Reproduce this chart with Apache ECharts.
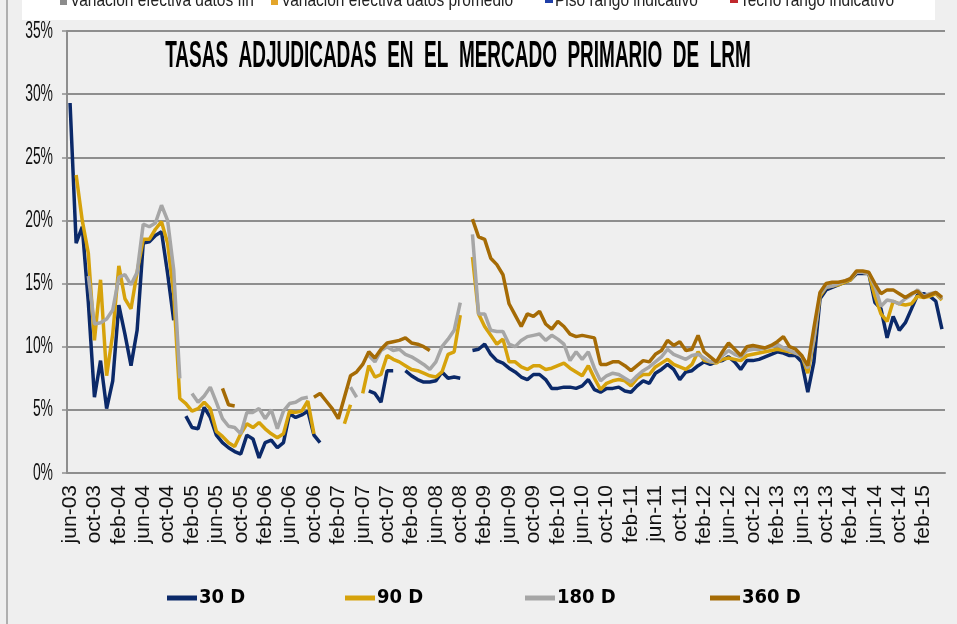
<!DOCTYPE html>
<html>
<head>
<meta charset="utf-8">
<script src="https://cdn.jsdelivr.net/npm/echarts@6/dist/echarts.min.js"></script>
<style>
  html, body { margin: 0; padding: 0; background: #efefef; }
  #chart { width: 957px; height: 624px; }
</style>
</head>
<body>
<div id="chart"></div>
<script>
// meses jun-03 .. may-15
const meses = ['ene', 'feb', 'mar', 'abr', 'may', 'jun', 'jul', 'ago', 'sep', 'oct', 'nov', 'dic'];
const categorias = [];
for (let k = 0; k < 144; k++) {
  const m = (5 + k) % 12;
  const a = 3 + Math.floor((5 + k) / 12);
  categorias.push(meses[m] + '-' + String(a).padStart(2, '0'));
}

const nombres = ['30 D', '90 D', '180 D', '360 D'];
const colores = ['#0b2969', '#d6a20b', '#a6a6a6', '#a56b05'];

const d30 = [
  29.3, 18.2, 19.5, 13.5, 6.0, 8.9, 5.1, 7.3, 13.3, 11.0,
  8.5, 11.3, 18.2, 18.3, 18.8, 19.1, 15.8, 12.1, null, 4.5,
  3.6, 3.5, 5.2, 4.4, 3.0, 2.4, 2.0, 1.7, 1.5, 3.0,
  2.7, 1.2, 2.4, 2.6, 2.0, 2.4, 4.7, 4.4, 4.6, 4.9,
  3.0, 2.4, null, null, null, null, null, null, null, 6.5,
  6.3, 5.6, 8.1, 8.1, null, 8.1, 7.7, 7.4, 7.2, 7.2,
  7.3, 8.0, 7.5, 7.6, 7.5, null, 9.7, 9.8, 10.2, 9.4,
  8.9, 8.7, 8.3, 8.0, 7.6, 7.4, 7.8, 7.8, 7.4, 6.7,
  6.7, 6.8, 6.8, 6.7, 6.9, 7.4, 6.6, 6.4, 6.7, 6.7,
  6.8, 6.5, 6.4, 6.9, 7.3, 7.1, 7.9, 8.2, 8.6, 8.2,
  7.4, 8.0, 8.1, 8.5, 8.8, 8.6, 8.8, 8.9, 9.2, 8.8,
  8.2, 8.9, 8.9, 9.0, 9.2, 9.4, 9.6, 9.5, 9.3, 9.3,
  8.8, 6.4, 8.8, 13.8, 14.5, 14.7, 14.9, 15.1, 15.3, 15.8,
  15.8, 15.8, 13.5, 13.0, 10.7, 12.4, 11.3, 11.9, 13.0, 14.1,
  14.2, 14.0, 13.6, 11.4
];

const d90 = [
  null, 23.6, 20.0, 17.4, 10.5, 15.3, 7.7, 11.0, 16.4, 13.8,
  13.0, 15.9, 18.5, 18.5, 19.3, 19.9, 18.2, 14.2, 5.9, 5.5,
  4.9, 5.1, 5.6, 5.1, 3.3, 2.9, 2.4, 2.1, 3.1, 3.9,
  3.6, 4.0, 3.5, 3.1, 2.8, 3.1, 4.9, 4.8, 4.9, 5.7,
  3.1, null, null, null, null, 3.9, 5.4, null, 6.3, 8.5,
  7.6, 7.8, 9.3, 9.0, 8.8, 8.5, 8.2, 8.1, 7.9, 7.7,
  7.6, 8.0, 9.4, 9.6, 12.5, null, 17.1, 12.6, 11.6, 10.9,
  10.2, 10.6, 8.8, 8.8, 8.4, 8.2, 8.5, 8.5, 8.2, 8.3,
  8.5, 8.7, 8.3, 8.0, 7.7, 8.5, 7.5, 6.6, 7.1, 7.3,
  7.4, 7.3, 6.9, 7.5, 7.8, 7.8, 8.4, 8.7, 9.0, 8.6,
  8.4, 8.2, 8.6, 9.6, 8.9, 8.8, 8.7, 9.0, 9.1, 9.0,
  8.9, 9.3, 9.4, 9.5, 9.6, 9.7, 9.8, 9.7, 9.6, 9.5,
  9.3, 7.9, 10.5, 14.0, 14.7, 14.8, 14.9, 15.1, 15.3, 15.9,
  15.9, 15.8, 14.0, 12.6, 12.0, 13.6, 13.4, 13.3, 13.4, 14.0,
  13.9, 14.0, 14.2, 13.7
];

const d180 = [
  null, null, null, 15.6, 11.8, 11.9, 12.2, 12.9, 15.5, 15.7,
  14.9, 15.9, 19.7, 19.5, 19.8, 21.2, 20.0, 16.1, 7.5, null,
  6.3, 5.6, 6.1, 6.8, 5.6, 4.3, 3.7, 3.6, 3.1, 4.8,
  4.8, 5.1, 4.3, 5.0, 3.5, 4.9, 5.5, 5.6, 5.9, 6.0,
  null, null, null, null, null, null, 6.8, 6.0, null, 9.3,
  8.8, 9.7, 10.0, 9.7, 9.8, 9.4, 9.2, 8.9, 8.6, 8.2,
  8.8, 10.0, 10.6, 11.3, 13.5, null, 18.9, 12.6, 12.6, 11.3,
  11.2, 11.2, 10.2, 10.0, 10.5, 10.8, 10.9, 11.0, 10.5, 10.9,
  10.6, 10.2, 8.9, 9.6, 9.0, 9.6, 8.3, 7.3, 7.7, 7.9,
  7.8, 7.5, 7.2, 7.7, 8.1, 8.4, 8.8, 9.2, 9.8, 9.4,
  9.2, 9.0, 9.3, 9.4, 9.1, 8.8, 8.8, 9.3, 9.7, 9.4,
  9.2, 9.7, 9.8, 9.8, 9.9, 10.0, 10.2, 9.9, 9.7, 9.5,
  9.3, 8.3, 10.6, 14.2, 14.7, 14.8, 15.0, 15.2, 15.4, 15.9,
  15.9, 15.8, 14.8, 13.2, 13.7, 13.6, 13.4, 13.8, 14.1, 14.5,
  14.0, 14.2, 14.3, 13.8
];

const d360 = [
  null, null, null, null, null, null, null, null, null, null,
  null, null, null, null, null, null, null, null, null, null,
  null, null, null, null, null, 6.7, 5.4, 5.3, null, null,
  null, null, null, null, null, null, null, null, null, null,
  6.0, 6.3, 5.7, 5.1, 4.3, 6.0, 7.7, 8.0, 8.6, 9.6,
  9.1, 9.8, 10.3, 10.4, 10.5, 10.7, 10.3, 10.2, 10.0, 9.7,
  null, null, null, null, null, null, 20.1, 18.7, 18.5, 17.0,
  16.5, 15.7, 13.4, 12.5, 11.6, 12.6, 12.4, 12.8, 11.8, 11.4,
  12.0, 11.6, 11.0, 10.8, 10.9, 10.8, 10.7, 8.6, 8.6, 8.8,
  8.8, 8.5, 8.1, 8.5, 8.9, 8.8, 9.4, 9.7, 10.5, 10.1,
  10.4, 9.7, 9.8, 10.9, 9.6, 9.2, 8.8, 9.6, 10.3, 9.8,
  9.3, 10.0, 10.1, 10.0, 9.9, 10.1, 10.4, 10.8, 10.0, 9.8,
  9.3, 8.5, 11.5, 14.3, 15.0, 15.1, 15.1, 15.2, 15.4, 16.0,
  16.0, 15.9, 15.0, 14.2, 14.5, 14.5, 14.2, 13.9, 14.2, 14.4,
  13.9, 14.1, 14.3, 13.9
];

const ticksY = [0, 5, 10, 15, 20, 25, 30, 35];

// leyenda recortada del grafico de arriba
const leyendaArriba = ['Variación efectiva datos fin', 'Variación efectiva datos promedio', 'Piso rango indicativo', 'Techo rango indicativo'];
const coloresArriba = ['#8c8c8c', '#e3a52a', '#1f3fa8', '#c0282d'];

const narrow = '"Liberation Sans Narrow", "Arial Narrow", "DejaVu Sans Condensed", sans-serif';
const gris = '#8e8e8e';

const datos = [d30, d90, d180, d360];
const series = datos.map((d, k) => ({
  name: nombres[k],
  type: 'line',
  data: d,
  showSymbol: false,
  connectNulls: false,
  lineStyle: { width: 3.5, color: colores[k] },
  itemStyle: { color: colores[k] },
  z: 2 + k
}));

const arriba = [];
const xsTexto = [70, 281, 555, 740];
leyendaArriba.forEach((t, k) => {
  arriba.push({
    type: 'rect', shape: { x: xsTexto[k] - 10, y: k < 2 ? -2 : 0, width: k < 2 ? 7 : 8, height: k < 2 ? 7 : 3 },
    style: { fill: coloresArriba[k] }
  });
  arriba.push({
    type: 'text', x: xsTexto[k], y: 10, scaleX: 0.86,
    style: {
      text: t, fill: '#222', font: '18px "Liberation Sans", Arial, sans-serif',
      textAlign: 'left', align: 'left', textVerticalAlign: 'bottom', verticalAlign: 'bottom'
    }
  });
});

const graficos = [
  { type: 'rect', shape: { x: 22, y: 0, width: 913, height: 20 }, style: { fill: '#ffffff' }, z: 0 },
  { type: 'line', shape: { x1: 7, y1: 0, x2: 7, y2: 624 }, style: { stroke: '#9a9a9a', lineWidth: 1.5 } },
  ...arriba,
  {
    type: 'text', x: 458, y: 57, scaleX: 0.527,
    style: {
      text: 'TASAS  ADJUDICADAS  EN  EL  MERCADO  PRIMARIO  DE  LRM',
      fill: '#000', font: 'bold 36px "Liberation Sans", Arial, sans-serif',
      textAlign: 'center', align: 'center', textVerticalAlign: 'middle', verticalAlign: 'middle'
    }
  }
];

const leftLeyenda = [167, 345, 525, 710];

const chart = echarts.init(document.getElementById('chart'));
chart.setOption({
  animation: false,
  backgroundColor: '#efefef',
  grid: { left: 67, right: 12, top: 31, bottom: 151 },
  legend: nombres.map((n, k) => ({
    data: [n],
    left: leftLeyenda[k],
    top: 588,
    padding: 0,
    icon: 'rect',
    itemWidth: 30,
    itemHeight: 5,
    textStyle: { fontSize: 20, fontWeight: 'bold', fontFamily: narrow, color: '#000', padding: [0, 0, 0, -3] }
  })),
  xAxis: {
    type: 'category',
    data: categorias,
    boundaryGap: true,
    axisLine: { lineStyle: { color: gris, width: 2 } },
    axisTick: { interval: 3, length: 7, lineStyle: { color: gris, width: 1.5 } },
    axisLabel: { interval: 3, rotate: 90, fontSize: 21, color: '#111', margin: 12, fontFamily: '"Liberation Sans", Arial, sans-serif' },
    splitLine: { show: false }
  },
  yAxis: {
    type: 'value',
    min: ticksY[0],
    max: ticksY[ticksY.length - 1],
    interval: 5,
    axisLine: { show: true, lineStyle: { color: gris, width: 2 } },
    axisTick: { show: true, length: 5, lineStyle: { color: gris, width: 1.5 } },
    axisLabel: { show: false },
    splitLine: { lineStyle: { color: gris, width: 2 } }
  },
  graphic: graficos,
  series: series
});

// etiquetas del eje Y, estrechas, ubicadas con la escala del eje
const etiquetasY = ticksY.map(v => ({
  type: 'text',
  x: 53,
  y: chart.convertToPixel({ yAxisIndex: 0 }, v),
  scaleX: 0.58,
  style: {
    text: v + '%', fill: '#111', font: '24px "Liberation Sans", Arial, sans-serif',
    textAlign: 'right', align: 'right', textVerticalAlign: 'middle', verticalAlign: 'middle'
  }
}));
chart.setOption({ graphic: graficos.concat(etiquetasY) });
</script>
</body>
</html>
